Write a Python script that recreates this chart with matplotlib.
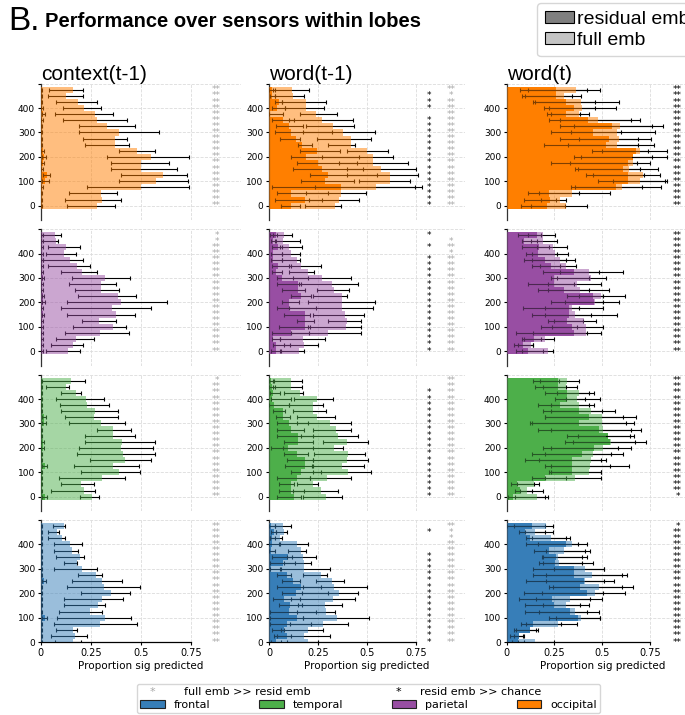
import numpy as np
import matplotlib
matplotlib.use('Agg')
import matplotlib.pyplot as plt
from matplotlib.patches import Patch

W, H = 685, 715

conditions = ['context(t-1)', 'word(t-1)', 'word(t)']
lobes = ['occipital', 'parietal', 'temporal', 'frontal']
lobe_colors = {'frontal': '#377eb8', 'temporal': '#4daf4a',
               'parietal': '#984ea3', 'occipital': '#ff7f00'}

# sensor bins, listed top to bottom
sensor_y = [475, 450, 425, 400, 375, 350, 325, 300, 275, 250,
            225, 200, 175, 150, 125, 100, 75, 50, 25, 0]
yticks = [0, 100, 200, 300, 400, 500]
ytick_labels = ['0', '100', '200', '300', '400', '']
xticks = [0, 0.25, 0.5, 0.75]
xtick_labels = ['0', '0.25', '0.5', '0.75']

# ---- occipital ----
occ_ctx_full = [.16, .125, .185, .215, .27, .28, .33, .39, .37, .37, .48, .55, .50, .50, .61, .575, .50, .30, .305, .28]
occ_ctx_full_lo = [.04, .035, .075, .11, .07, .11, .19, .19, .21, .22, .39, .33, .35, .35, .40, .39, .23, .14, .12, .13]
occ_ctx_full_hi = [.21, .21, .28, .30, .36, .43, .47, .59, .43, .44, .57, .74, .64, .68, .73, .735, .74, .38, .40, .37]
occ_ctx_res = [.003, .003, .003, .005, .013, .005, .004, .004, .004, .004, .010, .015, .010, .005, .030, .020, .005, .004, .004, .004]
occ_ctx_res_lo = [0, 0, 0, 0, .005, 0, 0, 0, 0, 0, .003, .005, .003, 0, .010, .005, 0, 0, 0, 0]
occ_ctx_res_hi = [.008, .008, .008, .010, .020, .010, .008, .008, .008, .008, .018, .027, .018, .010, .045, .040, .010, .008, .008, .008]
occ_ctx_sig_res = None
occ_ctx_sig_full = ['**'] * 20

occ_w1_full = [.12, .125, .19, .19, .24, .27, .325, .38, .42, .42, .50, .53, .53, .575, .62, .62, .545, .37, .36, .335]
occ_w1_full_lo = [.02, .03, .065, .08, .16, .10, .19, .175, .245, .30, .40, .27, .36, .40, .40, .46, .235, .19, .205, .185]
occ_w1_full_hi = [.205, .18, .29, .28, .35, .43, .435, .54, .52, .44, .61, .635, .71, .75, .76, .72, .78, .495, .46, .37]
occ_w1_res = [.014, .015, .05, .04, .005, .07, .10, .11, .14, .17, .245, .19, .25, .27, .30, .285, .37, .11, .185, .115]
occ_w1_res_lo = [0, .005, .03, .015, 0, .015, .035, .03, .055, .15, .16, .11, .145, .125, .21, .165, .015, .04, .03, .06]
occ_w1_res_hi = [.03, .03, .065, .08, .07, .13, .175, .32, .16, .22, .365, .46, .45, .48, .55, .435, .745, .30, .27, .16]
occ_w1_sig_res = ['', '*', '*', '*', '', '*', '*', '*', '*', '*', '*', '*', '*', '*', '*', '*', '*', '*', '*', '*']
occ_w1_sig_full = ['**', '*', '**', '**', '**', '**', '**', '**', '**', '**', '**', '**', '**', '**', '**', '**', '**', '**', '**', '**']

occ_w0_full = [.365, .30, .39, .395, .38, .48, .595, .58, .59, .58, .70, .655, .66, .64, .715, .70, .605, .34, .28, .31]
occ_w0_full_lo = [.11, .095, .15, .22, .23, .22, .35, .335, .38, .32, .50, .39, .33, .375, .45, .555, .36, .17, .18, .125]
occ_w0_full_hi = [.49, .39, .59, .57, .43, .70, .82, .775, .755, .77, .74, .76, .75, .79, .805, .83, .81, .54, .31, .42]
occ_w0_res = [.26, .26, .31, .35, .31, .425, .55, .45, .535, .52, .675, .66, .635, .61, .635, .635, .57, .22, .225, .21]
occ_w0_res_lo = [.07, .08, .14, .195, .21, .28, .28, .23, .28, .195, .445, .35, .23, .36, .415, .48, .335, .11, .09, .075]
occ_w0_res_hi = [.42, .34, .46, .46, .385, .65, .76, .60, .69, .685, .84, .84, .68, .70, .72, .84, .71, .38, .26, .305]
occ_w0_sig_res = ['**'] * 20
occ_w0_sig_full = None   # falls outside the figure

# ---- parietal ----
par_ctx_full = [.07, .075, .125, .115, .145, .18, .205, .32, .30, .30, .385, .40, .355, .375, .29, .36, .295, .175, .16, .135]
par_ctx_full_lo = [0, 0, .035, .025, .01, .035, .10, .155, .14, .17, .185, .13, .10, .13, .205, .16, .12, .075, .05, .025]
par_ctx_full_hi = [.10, .085, .195, .175, .21, .245, .28, .445, .375, .39, .475, .63, .55, .47, .375, .425, .44, .265, .21, .195]
par_ctx_res = [.004, .004, .004, .004, .004, .004, .004, .010, .004, .004, .010, .012, .004, .010, .004, .004, .004, .004, .004, .004]
par_ctx_res_lo = [0, 0, 0, 0, 0, 0, 0, .004, 0, 0, .004, .005, 0, .004, 0, 0, 0, 0, 0, 0]
par_ctx_res_hi = [.009, .009, .009, .009, .009, .009, .009, .018, .009, .009, .018, .020, .009, .018, .009, .009, .009, .009, .009, .009]
par_ctx_sig_res = None
par_ctx_sig_full = ['*', '*', '**', '**', '**', '**', '**', '**', '**', '**', '**', '**', '**', '**', '**', '**', '**', '**', '**', '**']

par_w1_full = [.075, .07, .10, .115, .145, .165, .20, .27, .32, .33, .375, .375, .375, .39, .40, .395, .30, .175, .18, .155]
par_w1_full_lo = [.02, .03, .055, .065, .065, .10, .10, .125, .155, .245, .225, .20, .10, .225, .30, .20, .115, .055, .075, .06]
par_w1_full_hi = [.12, .16, .17, .16, .16, .265, .23, .42, .455, .41, .40, .54, .53, .485, .47, .47, .47, .285, .25, .18]
par_w1_res = [.035, .02, .045, .02, .02, .045, .035, .065, .15, .15, .165, .10, .10, .185, .185, .185, .115, .02, .035, .035]
par_w1_res_lo = [.005, .01, .015, .01, .01, .015, .015, .04, .04, .065, .115, .065, .04, .075, .145, .05, .015, .015, .02, .01]
par_w1_res_hi = [.04, .035, .065, .065, .065, .11, .065, .20, .165, .185, .215, .155, .24, .21, .23, .21, .205, .055, .105, .055]
par_w1_sig_res = ['*', '', '*', '', '*', '*', '*', '*', '*', '*', '*', '*', '*', '*', '*', '*', '*', '*', '*', '*']
par_w1_sig_full = ['', '*', '**', '*', '**', '**', '**', '**', '**', '**', '**', '**', '**', '**', '**', '**', '**', '**', '**', '**']

par_w0_full = [.19, .19, .24, .255, .28, .31, .43, .44, .37, .385, .495, .46, .34, .36, .405, .415, .415, .20, .125, .215]
par_w0_full_lo = [.11, .125, .16, .13, .135, .175, .28, .265, .215, .215, .38, .305, .20, .20, .25, .235, .14, .09, .06, .08]
par_w0_full_hi = [.255, .265, .315, .32, .355, .365, .61, .52, .495, .535, .62, .59, .505, .58, .465, .505, .495, .25, .14, .24]
par_w0_res = [.16, .09, .17, .165, .20, .23, .35, .25, .25, .30, .45, .455, .325, .325, .315, .34, .35, .145, .085, .11]
par_w0_res_lo = [.06, .08, .08, .10, .09, .13, .19, .23, .11, .165, .315, .23, .085, .135, .215, .18, .05, .08, .04, .05]
par_w0_res_hi = [.18, .16, .22, .265, .31, .28, .485, .43, .35, .43, .505, .505, .38, .44, .40, .37, .42, .18, .14, .19]
par_w0_sig_res = ['**'] * 20
par_w0_sig_full = None

# ---- temporal ----
tem_ctx_full = [.15, .125, .175, .225, .23, .27, .265, .30, .36, .36, .405, .40, .41, .42, .36, .39, .305, .20, .215, .255]
tem_ctx_full_lo = [0, .025, .10, .075, .095, .10, .12, .14, .28, .22, .22, .19, .18, .245, .165, .20, .09, .10, .05, .195]
tem_ctx_full_hi = [.22, .14, .20, .315, .34, .385, .385, .42, .45, .47, .57, .56, .57, .55, .49, .495, .42, .265, .27, .29]
tem_ctx_res = [.003, .003, .003, .003, .003, .003, .015, .015, .003, .003, .010, .010, .003, .003, .020, .003, .003, .003, .003, .020]
tem_ctx_res_lo = [0, 0, 0, 0, 0, 0, .005, .005, 0, 0, .003, .003, 0, 0, .008, 0, 0, 0, 0, .008]
tem_ctx_res_hi = [.008, .008, .008, .008, .008, .008, .025, .025, .008, .008, .018, .018, .008, .008, .032, .008, .008, .008, .008, .032]
tem_ctx_sig_res = None
tem_ctx_sig_full = ['*', '**', '**', '**', '**', '**', '**', '**', '**', '**', '**', '**', '**', '**', '**', '**', '**', '**', '**', '**']

tem_w1_full = [.11, .11, .16, .245, .225, .225, .245, .31, .34, .355, .40, .33, .405, .40, .375, .405, .295, .225, .265, .29]
tem_w1_full_lo = [.02, .02, .075, .13, .10, .125, .145, .145, .225, .165, .275, .07, .23, .225, .225, .225, .21, .145, .125, .175]
tem_w1_full_hi = [.17, .17, .175, .325, .275, .29, .335, .42, .42, .455, .505, .38, .49, .505, .485, .52, .42, .25, .355, .375]
tem_w1_res = [.01, .015, .02, .015, .025, .07, .07, .10, .115, .15, .15, .095, .145, .185, .185, .165, .145, .11, .115, .13]
tem_w1_res_lo = [0, 0, .005, .01, 0, .02, .035, .04, .04, .04, .075, .01, .075, .09, .08, .115, .04, .05, .05, .04]
tem_w1_res_hi = [.025, .03, .055, .115, .10, .08, .105, .20, .18, .225, .225, .225, .20, .225, .22, .265, .21, .13, .18, .165]
tem_w1_sig_res = ['', '', '*', '*', '*', '*', '*', '*', '*', '*', '*', '*', '*', '*', '*', '*', '*', '*', '*', '*']
tem_w1_sig_full = ['**'] * 20

tem_w0_full = [.315, .31, .38, .37, .38, .44, .50, .50, .505, .52, .545, .505, .45, .44, .435, .43, .355, .145, .105, .16]
tem_w0_full_lo = [.175, .19, .265, .31, .23, .23, .20, .135, .23, .375, .345, .23, .20, .17, .23, .23, .20, .055, .07, .045]
tem_w0_full_hi = [.38, .37, .455, .41, .43, .565, .61, .665, .705, .645, .73, .65, .61, .52, .54, .495, .495, .17, .135, .20]
tem_w0_res = [.27, .27, .315, .315, .28, .38, .43, .38, .485, .53, .54, .455, .395, .34, .34, .34, .20, .055, .07, .035]
tem_w0_res_lo = [.14, .15, .20, .255, .165, .19, .20, .12, .165, .315, .305, .19, .135, .095, .20, .22, .13, .02, .045, .005]
tem_w0_res_hi = [.275, .31, .43, .49, .455, .50, .675, .625, .65, .665, .67, .585, .545, .495, .64, .495, .31, .145, .19, .215]
tem_w0_sig_res = ['**', '**', '**', '**', '**', '**', '**', '**', '**', '**', '**', '**', '**', '**', '**', '**', '**', '**', '**', '*']
tem_w0_sig_full = None

# ---- frontal ----
fro_ctx_full = [.115, .08, .105, .145, .155, .195, .18, .205, .275, .305, .315, .35, .305, .285, .245, .32, .295, .16, .17, .16]
fro_ctx_full_lo = [.06, .035, .035, .065, .065, .075, .115, .065, .185, .155, .13, .20, .115, .115, .09, .08, .065, .075, .05, .07]
fro_ctx_full_hi = [.12, .09, .12, .205, .185, .215, .18, .28, .305, .405, .495, .445, .41, .32, .305, .45, .48, .18, .23, .20]
fro_ctx_res = [.003, .003, .003, .003, .003, .003, .003, .003, .003, .015, .003, .003, .003, .003, .003, .020, .003, .003, .003, .003]
fro_ctx_res_lo = [0, 0, 0, 0, 0, 0, 0, 0, 0, .005, 0, 0, 0, 0, 0, .008, 0, 0, 0, 0]
fro_ctx_res_hi = [.008, .008, .008, .008, .008, .008, .008, .008, .008, .025, .008, .008, .008, .008, .008, .032, .008, .008, .008, .008]
fro_ctx_sig_res = None
fro_ctx_sig_full = ['**'] * 20

fro_w1_full = [.07, .075, .055, .145, .165, .175, .18, .18, .265, .32, .33, .36, .325, .285, .29, .35, .275, .20, .18, .20]
fro_w1_full_lo = [.03, .035, .005, .055, .095, .09, .075, .055, .175, .24, .175, .17, .115, .15, .145, .175, .105, .06, .04, .09]
fro_w1_full_hi = [.115, .09, .065, .20, .19, .24, .215, .31, .295, .385, .50, .455, .44, .375, .335, .51, .405, .275, .31, .25]
fro_w1_res = [.01, .025, .015, .015, .01, .095, .07, .01, .09, .125, .165, .14, .075, .105, .10, .145, .09, .075, .09, .035]
fro_w1_res_lo = [0, .01, .005, 0, 0, .015, .005, .005, .04, .065, .04, .065, .02, .05, .005, .005, .005, .015, .025, .01]
fro_w1_res_hi = [.03, .035, .03, .05, .03, .12, .135, .06, .11, .16, .265, .30, .16, .17, .24, .175, .215, .065, .115, .06]
fro_w1_sig_res = ['', '*', '', '', '', '*', '*', '*', '*', '*', '*', '*', '*', '*', '*', '*', '*', '*', '*', '*']
fro_w1_sig_full = ['**', '*', '*', '**', '**', '**', '**', '**', '**', '**', '**', '**', '**', '**', '**', '**', '**', '**', '**', '**']

fro_w0_full = [.205, .15, .23, .34, .30, .27, .275, .41, .445, .41, .485, .46, .33, .31, .36, .39, .27, .12, .065, .15]
fro_w0_full_lo = [.04, .095, .13, .165, .205, .19, .19, .25, .205, .205, .245, .185, .155, .19, .17, .26, .10, .05, .04, .06]
fro_w0_full_hi = [.24, .245, .33, .42, .435, .42, .45, .51, .605, .56, .66, .62, .50, .385, .485, .49, .37, .155, .09, .25]
fro_w0_res = [.135, .095, .12, .31, .22, .26, .255, .35, .35, .405, .385, .42, .235, .25, .33, .375, .14, .12, .065, .06]
fro_w0_res_lo = [0, .065, .10, .10, .145, .185, .17, .14, .14, .10, .22, .09, .065, .095, .095, .22, .075, .04, .015, .03]
fro_w0_res_hi = [.20, .20, .31, .375, .41, .395, .395, .51, .63, .51, .605, .505, .435, .43, .42, .49, .285, .165, .085, .09]
fro_w0_sig_res = ['*', '**', '**', '**', '**', '**', '**', '**', '**', '**', '**', '**', '**', '**', '**', '**', '**', '**', '**', '**']
fro_w0_sig_full = None


def panel(full, full_lo, full_hi, res, res_lo, res_hi, sig_res, sig_full):
    return dict(full=full, full_lo=full_lo, full_hi=full_hi, res=res,
                res_lo=res_lo, res_hi=res_hi, sig_res=sig_res, sig_full=sig_full)


panels = {
    ('occipital', 'context(t-1)'): panel(occ_ctx_full, occ_ctx_full_lo, occ_ctx_full_hi, occ_ctx_res, occ_ctx_res_lo, occ_ctx_res_hi, occ_ctx_sig_res, occ_ctx_sig_full),
    ('occipital', 'word(t-1)'): panel(occ_w1_full, occ_w1_full_lo, occ_w1_full_hi, occ_w1_res, occ_w1_res_lo, occ_w1_res_hi, occ_w1_sig_res, occ_w1_sig_full),
    ('occipital', 'word(t)'): panel(occ_w0_full, occ_w0_full_lo, occ_w0_full_hi, occ_w0_res, occ_w0_res_lo, occ_w0_res_hi, occ_w0_sig_res, occ_w0_sig_full),
    ('parietal', 'context(t-1)'): panel(par_ctx_full, par_ctx_full_lo, par_ctx_full_hi, par_ctx_res, par_ctx_res_lo, par_ctx_res_hi, par_ctx_sig_res, par_ctx_sig_full),
    ('parietal', 'word(t-1)'): panel(par_w1_full, par_w1_full_lo, par_w1_full_hi, par_w1_res, par_w1_res_lo, par_w1_res_hi, par_w1_sig_res, par_w1_sig_full),
    ('parietal', 'word(t)'): panel(par_w0_full, par_w0_full_lo, par_w0_full_hi, par_w0_res, par_w0_res_lo, par_w0_res_hi, par_w0_sig_res, par_w0_sig_full),
    ('temporal', 'context(t-1)'): panel(tem_ctx_full, tem_ctx_full_lo, tem_ctx_full_hi, tem_ctx_res, tem_ctx_res_lo, tem_ctx_res_hi, tem_ctx_sig_res, tem_ctx_sig_full),
    ('temporal', 'word(t-1)'): panel(tem_w1_full, tem_w1_full_lo, tem_w1_full_hi, tem_w1_res, tem_w1_res_lo, tem_w1_res_hi, tem_w1_sig_res, tem_w1_sig_full),
    ('temporal', 'word(t)'): panel(tem_w0_full, tem_w0_full_lo, tem_w0_full_hi, tem_w0_res, tem_w0_res_lo, tem_w0_res_hi, tem_w0_sig_res, tem_w0_sig_full),
    ('frontal', 'context(t-1)'): panel(fro_ctx_full, fro_ctx_full_lo, fro_ctx_full_hi, fro_ctx_res, fro_ctx_res_lo, fro_ctx_res_hi, fro_ctx_sig_res, fro_ctx_sig_full),
    ('frontal', 'word(t-1)'): panel(fro_w1_full, fro_w1_full_lo, fro_w1_full_hi, fro_w1_res, fro_w1_res_lo, fro_w1_res_hi, fro_w1_sig_res, fro_w1_sig_full),
    ('frontal', 'word(t)'): panel(fro_w0_full, fro_w0_full_lo, fro_w0_full_hi, fro_w0_res, fro_w0_res_lo, fro_w0_res_hi, fro_w0_sig_res, fro_w0_sig_full),
}

plt.rcParams['font.family'] = ['DejaVu Sans']
title_font = 'Liberation Sans'

fig = plt.figure(figsize=(W / 100, H / 100), dpi=100)

# layout in pixels
col_left = [40.7, 269.0, 506.7]
col_width = [200.0, 195.6, 191.0]     # axes span x = 0..1
row_zero = [205.7, 351.1, 496.6, 642.0]
px_per_y = 0.244
# x positions of the two star columns (resid >> chance, full >> resid)
star_x = {'context(t-1)': (0.82, 0.88), 'word(t-1)': (0.82, 0.93), 'word(t)': (0.895, 1.0)}


def xerr_of(v, lo, hi):
    v, lo, hi = np.array(v), np.array(lo), np.array(hi)
    return [np.clip(v - lo, 0, None), np.clip(hi - v, 0, None)]


for r, lobe in enumerate(lobes):
    ymin = 0 if r == len(lobes) - 1 else -60
    top = row_zero[r] - 500 * px_per_y
    bottom = row_zero[r] - ymin * px_per_y
    for c, cond in enumerate(conditions):
        ax = fig.add_axes([col_left[c] / W, 1 - bottom / H, col_width[c] / W, (bottom - top) / H])
        d = panels[(lobe, cond)]
        color = lobe_colors[lobe]

        ax.barh(sensor_y, d['res'], height=25, color=color, lw=0, zorder=2)
        for key in ('res', 'full'):
            ax.errorbar(d[key], sensor_y, xerr=xerr_of(d[key], d[key + '_lo'], d[key + '_hi']),
                        fmt='none', ecolor='k', elinewidth=0.8, capsize=1.5, capthick=0.8, zorder=3)
        ax.barh(sensor_y, d['full'], height=25, color=color, alpha=0.5, lw=0, zorder=4)

        xb, xg = star_x[cond]
        for x, marks, tc in ((xb, d['sig_res'], 'k'), (xg, d['sig_full'], '#a8a8a8')):
            if marks is None:
                continue
            for y, m in zip(sensor_y, marks):
                if m:
                    ax.text(x, y, m, ha='center', va='center', fontsize=6.5, color=tc, clip_on=False)

        ax.set_xlim(0, 1)
        ax.set_ylim(ymin, 500)
        ax.set_yticks(yticks)
        ax.set_yticklabels(ytick_labels, fontsize=6.5)
        ax.set_xticks(xticks)
        ax.tick_params(axis='y', length=2.5, width=0.8, pad=1.5)
        ax.grid(True, ls='--', lw=0.6, color='#dcdcdc')
        ax.set_axisbelow(True)
        for s in ('top', 'right'):
            ax.spines[s].set_visible(False)
        ax.spines['left'].set_linewidth(0.9)
        ax.spines['left'].set_color('#333333')
        if r < len(lobes) - 1:
            ax.spines['bottom'].set_visible(False)
            ax.tick_params(axis='x', length=0, labelbottom=False)
        else:
            ax.spines['bottom'].set_bounds(0, 0.75)
            ax.spines['bottom'].set_linewidth(0.9)
            ax.set_xticklabels(xtick_labels, fontsize=7)
            ax.tick_params(axis='x', length=2.5, width=0.8, pad=2)
            ax.set_xlabel('Proportion sig predicted', fontsize=7.5, labelpad=2)
        if r == 0:
            ax.set_title(cond, loc='left', fontsize=15, family=title_font, pad=1)

fig.text(8 / W, 1 - 30 / H, 'B.', fontsize=24, family=title_font, va='baseline')
fig.text(45 / W, 1 - 27 / H, 'Performance over sensors within lobes', fontsize=14.5,
         weight='bold', family=title_font, va='baseline')

# top-right legend
top_handles = [Patch(facecolor='#7f7f7f', edgecolor='k', lw=0.8, label='residual emb'),
               Patch(facecolor='#c4c4c4', edgecolor='k', lw=0.8, label='full emb')]
fig.legend(handles=top_handles, loc='upper left', bbox_to_anchor=(537 / W, 1 - 3 / H),
           prop={'family': title_font, 'size': 14}, handlelength=1.5, handleheight=0.55,
           handletextpad=0.15, borderpad=0.4, labelspacing=0.2, borderaxespad=0)

# bottom legend: a blank first row, with the star entries written on top of it
blank = Patch(facecolor='none', edgecolor='none', label=' ')
lobe_order = ['frontal', 'temporal', 'parietal', 'occipital']
bottom_handles = []
for lb in lobe_order:
    bottom_handles += [blank, Patch(facecolor=lobe_colors[lb], edgecolor='#222222', lw=0.8, label=lb)]
fig.legend(handles=bottom_handles, ncol=4, loc='lower left', bbox_to_anchor=(137 / W, 2 / H),
           fontsize=8, handlelength=2.2, handleheight=0.7, handletextpad=0.8,
           columnspacing=4.4, borderpad=0.3, labelspacing=0.2, borderaxespad=0)

row1_y = 1 - 692 / H
fig.text(152 / W, row1_y, '*', fontsize=8, color='#a8a8a8', ha='center', va='center', zorder=10)
fig.text(184 / W, row1_y, 'full emb >> resid emb', fontsize=8, va='center', zorder=10)
fig.text(398 / W, row1_y, '*', fontsize=8, color='k', ha='center', va='center', zorder=10)
fig.text(420 / W, row1_y, 'resid emb >> chance', fontsize=8, va='center', zorder=10)

fig.savefig('out.png', dpi=100)
